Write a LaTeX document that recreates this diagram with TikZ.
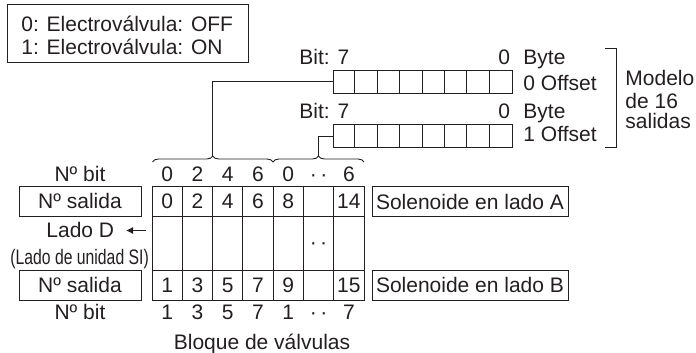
\documentclass[tikz,border=0pt]{standalone}
\usepackage{fontspec}
\setmainfont{Liberation Sans}
\usetikzlibrary{decorations.pathreplacing,arrows.meta}
\definecolor{ink}{HTML}{231F20}

\tikzset{
  txt/.style={inner sep=0pt, anchor=base, text=ink, font=\fontsize{21}{25}\selectfont},
  txtl/.style={txt, anchor=base west},
  labelbox/.style={draw=ink, inner sep=0pt, text=ink, font=\fontsize{21}{25}\selectfont},
  regbox/.style={draw=ink, inner sep=0pt, minimum width=179pt, minimum height=23pt},
  wire/.style={draw=ink},
  bitbrace/.style={draw=ink, decorate, decoration={brace, amplitude=6pt}},
}

\begin{document}
\begin{tikzpicture}[x=1pt, y=-1pt, line width=0.9pt]
\useasboundingbox (0,0) rectangle (696,353);

% legend
\node[labelbox, anchor=north west, minimum width=241pt, minimum height=58pt] (legend) at (7,4) {};
\node[txtl] (l0) at (21,32) {0: Electroválvula: OFF};
\node[txtl] (l1) at (21,55) {1: Electroválvula: ON};

% byte registers
\node[regbox] (reg0) at (422.5,81.5) {};
\node[regbox] (reg1) at (422.5,136) {};
\foreach \r in {reg0,reg1}
  \foreach \i in {1,...,7}
    \draw[ink] ([xshift=\i*22.375pt]\r.north west) -- ([xshift=\i*22.375pt]\r.south west);

\node[txtl] (b0) at (299,65) {Bit: 7};
\node[txtl] (z0) at (498,65) {0};
\node[txtl] (y0) at (523,65) {Byte};
\node[txtl] (o0) at (523,90) {0 Offset};
\node[txtl] (b1) at (299,118) {Bit: 7};
\node[txtl] (z1) at (498,118) {0};
\node[txtl] (y1) at (523,118) {Byte};
\node[txtl] (o1) at (523,141) {1 Offset};

% 16-output model bracket
\draw[ink] (605,48) -- (616,48) -- (616,147) -- (605,147);
\node[txtl] (m1) at (625,85) {Modelo};
\node[txtl] (m2) at (625,108) {de 16};
\node[txtl] (m3) at (625,128) {salidas};

% braces grouping the bits of each byte
\draw[bitbrace] (152.5,162) -- (273,162);
\draw[bitbrace] (273,162) -- (364,162);
\coordinate (tip0) at (212.75,156);
\coordinate (tip1) at (318.5,156);
\draw[wire] (reg0.west) -| (tip0);
\draw[wire] (reg1.west) -| (tip1);

% valve block table
\node[draw=ink, inner sep=0pt, anchor=north west, minimum width=212pt, minimum height=114pt] (block) at (152,186) {};
\draw[ink] (152,216) -- (364,216);
\draw[ink] (152,270) -- (364,270);
\foreach \i in {1,...,6}
  \draw[ink] ([xshift=\i*30.2857pt]block.north west) -- ([xshift=\i*30.2857pt]block.south west);

\foreach \t [count=\i from 0] in {0,2,4,6,0,{·\,·},6}
  \node[txt] (bt\i) at (167.14+\i*30.2857,181) {\t};
\foreach \t [count=\i from 0] in {0,2,4,6,8,{},14}
  \node[txt] (sa\i) at (167.14+\i*30.2857,208) {\t};
\node[txt] (mid) at (318.5,249) {·\,·};
\foreach \t [count=\i from 0] in {1,3,5,7,9,{},15}
  \node[txt] (sb\i) at (167.14+\i*30.2857,292) {\t};
\foreach \t [count=\i from 0] in {1,3,5,7,1,{·\,·},7}
  \node[txt] (bb\i) at (167.14+\i*30.2857,319) {\t};

% left labels
\node[txt] (nbt) at (80,181) {Nº bit};
\node[labelbox, minimum width=122pt, minimum height=30pt] (nsa) at (80,201) {Nº salida};
\node[txtl] (lado) at (46,237) {Lado D};
\coordinate (arrS) at (146,230.5);
\coordinate (arrE) at (126,230.5);
\draw[ink, -{Latex[length=7pt,width=7pt]}] (arrS) -- (arrE);
\node[txtl] (unit) at (10,264) {\scalebox{0.75}[1]{(Lado de unidad SI)}};
\node[labelbox, minimum width=122pt, minimum height=30pt] (nsb) at (80,285) {Nº salida};
\node[txt] (nbb) at (80,319) {Nº bit};

% right labels
\node[labelbox, minimum width=196pt, minimum height=30pt] (solA) at (470,201.5) {Solenoide en lado A};
\node[labelbox, minimum width=196pt, minimum height=30pt] (solB) at (470,285) {Solenoide en lado B};

\node[txt] (bloque) at (262,349) {Bloque de válvulas};
\end{tikzpicture}
\end{document}
